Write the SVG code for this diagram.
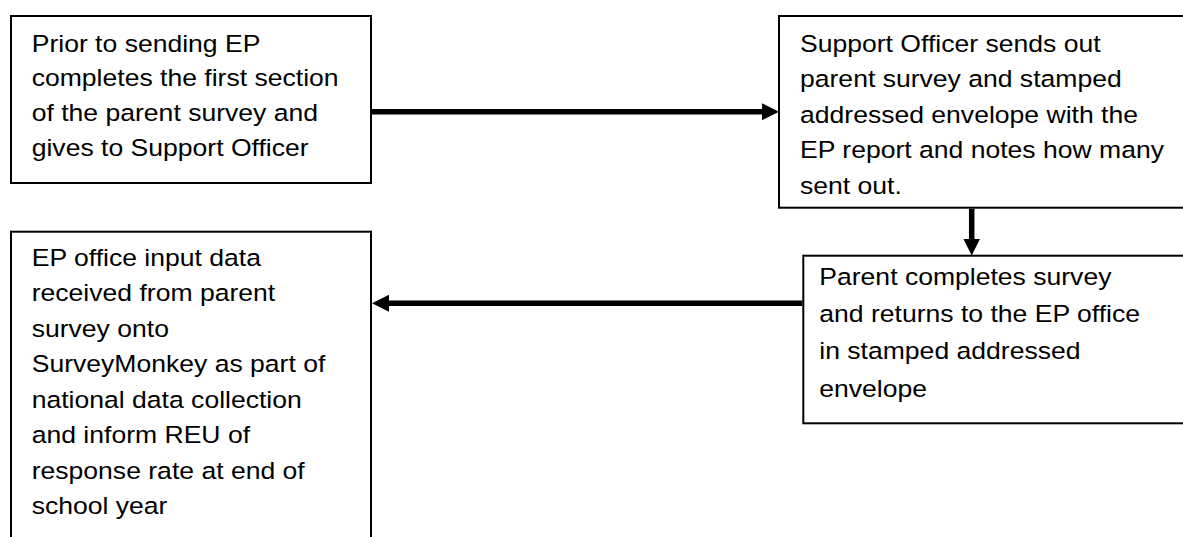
<svg xmlns="http://www.w3.org/2000/svg" width="1183" height="537" viewBox="0 0 1183 537">
  <style>
    .box { fill: #ffffff; stroke: #000000; stroke-width: 2; }
    .lbl { font-family: "Liberation Sans", Arial, sans-serif; font-size: 23.3px; fill: #000000; }
    .conn { stroke: #000000; stroke-width: 5.5; fill: none; marker-end: url(#head); }
  </style>
  <defs>
    <marker id="head" markerUnits="userSpaceOnUse" markerWidth="18" markerHeight="18" refX="1" refY="8.5" orient="auto">
      <path d="M0,0 L17,8.5 L0,17 z" fill="#000000"/>
    </marker>
  </defs>
  <rect width="1183" height="537" fill="#ffffff"/>

  <g id="node-prior">
    <rect class="box" x="11" y="16" width="360" height="167"/>
    <g transform="translate(31.7,0) scale(1.14,1)">
      <text class="lbl" x="0" y="51.7">Prior to sending EP</text>
      <text class="lbl" x="0" y="86.4">completes the first section</text>
      <text class="lbl" x="0" y="121">of the parent survey and</text>
      <text class="lbl" x="0" y="155.6">gives to Support Officer</text>
    </g>
  </g>

  <g id="node-support">
    <rect class="box" x="779" y="16" width="430" height="191.7"/>
    <g transform="translate(800,0) scale(1.14,1)">
      <text class="lbl" x="0" y="51.7">Support Officer sends out</text>
      <text class="lbl" x="0" y="87.3">parent survey and stamped</text>
      <text class="lbl" x="0" y="122.9">addressed envelope with the</text>
      <text class="lbl" x="0" y="158.5">EP report and notes how many</text>
      <text class="lbl" x="0" y="194">sent out.</text>
    </g>
  </g>

  <g id="node-parent">
    <rect class="box" x="803.3" y="255.7" width="410" height="167.6"/>
    <g transform="translate(819.3,0) scale(1.14,1)">
      <text class="lbl" x="0" y="285">Parent completes survey</text>
      <text class="lbl" x="0" y="322.2">and returns to the EP office</text>
      <text class="lbl" x="0" y="359.4">in stamped addressed</text>
      <text class="lbl" x="0" y="396.7">envelope</text>
    </g>
  </g>

  <g id="node-epoffice">
    <rect class="box" x="11" y="231.7" width="360" height="340"/>
    <g transform="translate(31.7,0) scale(1.14,1)">
      <text class="lbl" x="0" y="265.7">EP office input data</text>
      <text class="lbl" x="0" y="301.2">received from parent</text>
      <text class="lbl" x="0" y="336.7">survey onto</text>
      <text class="lbl" x="0" y="372.2">SurveyMonkey as part of</text>
      <text class="lbl" x="0" y="407.7">national data collection</text>
      <text class="lbl" x="0" y="443.2">and inform REU of</text>
      <text class="lbl" x="0" y="478.7">response rate at end of</text>
      <text class="lbl" x="0" y="514.2">school year</text>
    </g>
  </g>

  <g id="connectors">
    <line class="conn" x1="372" y1="111.7" x2="763" y2="111.7"/>
    <line class="conn" x1="971.7" y1="208.7" x2="971.7" y2="239.5"/>
    <line class="conn" x1="802.3" y1="303.3" x2="388" y2="303.3"/>
  </g>
</svg>
